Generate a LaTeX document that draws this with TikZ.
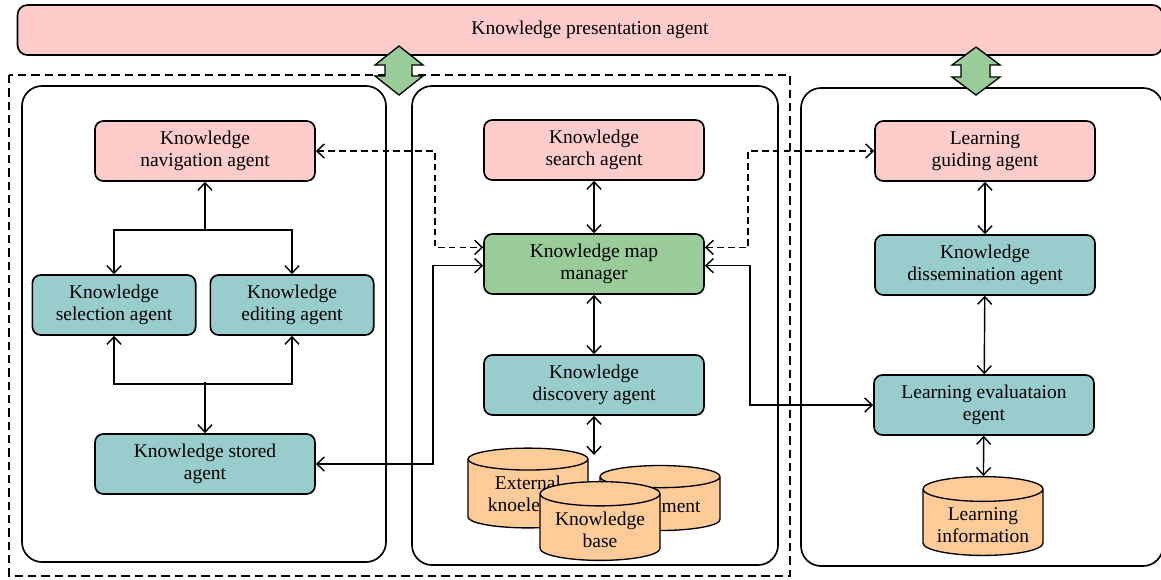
\documentclass[tikz,border=0pt]{standalone}
\usepackage{fontspec}
\setmainfont{Liberation Serif}
\usepackage{tikz}
\usetikzlibrary{arrows.meta,shapes.geometric}

\definecolor{agentpink}{HTML}{FFCCCC}
\definecolor{agentteal}{HTML}{99CCCC}
\definecolor{agentgreen}{HTML}{99CC99}
\definecolor{baseorange}{HTML}{FFCC99}

\begin{document}
\begin{tikzpicture}[x=0.6pt, y=-0.6pt,
    font=\fontsize{11.7}{13.2}\selectfont,
    >={Straight Barb[length=4.5pt, width=8.5pt]},
    agent/.style={draw, line width=1pt, rounded corners=5pt, align=center, minimum width=132pt, minimum height=36pt},
    small agent/.style={agent, minimum width=98pt},
    panel/.style={draw, line width=1pt, rounded corners=12pt},
    link/.style={line width=0.85pt},
    dashlink/.style={link, dash pattern=on 4pt off 2.5pt},
    base/.style={cylinder, shape border rotate=90, aspect=0.24, draw, line width=0.8pt, fill=baseorange, align=center, minimum width=72pt, minimum height=39pt, anchor=shape center},
    updown/.style={fill=agentgreen, draw, line width=0.8pt}]
    \useasboundingbox (0,0) rectangle (1161,579);
    \clip (0,0) rectangle (1161,579);

    \node[agent, fill=agentpink, rounded corners=6pt, minimum width=687pt, minimum height=30pt] (present) at (590,30) {Knowledge presentation agent};

    \draw[line width=1pt, dash pattern=on 5pt off 3pt] (9,75) rectangle (790,576);
    \draw[panel] (22,86) rectangle (386,562);
    \draw[panel] (412,86) rectangle (778,565);
    \draw[panel] (801,88) rectangle (1163,566);

    \filldraw[updown] (399,46) -- (423,65) -- (412,65) -- (412,76) -- (423,76) -- (399,95) -- (375,76) -- (385,76) -- (385,65) -- (375,65) -- cycle;
    \filldraw[updown] (976,47) -- (1000,65) -- (990,65) -- (990,77) -- (1000,77) -- (976,95) -- (952,77) -- (961,77) -- (961,65) -- (952,65) -- cycle;

    \node[agent, fill=agentpink] (nav) at (205,151) {Knowledge\\navigation agent};
    \node[small agent, fill=agentteal] (sel) at (114,305) {Knowledge\\selection agent};
    \node[small agent, fill=agentteal] (edit) at (292,305) {Knowledge\\editing agent};
    \node[agent, fill=agentteal] (store) at (205,464) {Knowledge stored\\agent};

    \node[agent, fill=agentpink] (search) at (594,150) {Knowledge\\search agent};
    \node[agent, fill=agentgreen] (kmm) at (594,264) {Knowledge map\\manager};
    \node[agent, fill=agentteal] (disc) at (594,385) {Knowledge\\discovery agent};

    \node[agent, fill=agentpink] (guide) at (985,151) {Learning\\guiding agent};
    \node[agent, fill=agentteal] (dissem) at (985,265) {Knowledge\\dissemination agent};
    \node[agent, fill=agentteal] (eval) at (984,405) {Learning evaluataion\\egent};

    \node[base, minimum height=35pt] (extdb) at (528,488) {External\\knoeledge};
    \node[base] (docdb) at (660,498) {Document};
    \node[base] (kbdb) at (600,521) {Knowledge\\base};
    \node[base] (lidb) at (983,516) {Learning\\information};

    \draw[link, <->] (nav.south) -- ++(0,48) -| (sel.north);
    \draw[link, ->] (nav.south) ++(0,48) -| (edit.north);
    \draw[link, <->] (sel.south) -- ++(0,48) -| (edit.south);
    \draw[link, ->] (store.north) ++(0,-51) -- (store.north);

    \draw[dashlink, <->] (nav.east) -| ([xshift=-29pt]kmm.north west) |- ([yshift=10pt]kmm.west);
    \draw[link, <->] (store.east) -| ([xshift=-30pt]kmm.south west) |- ([yshift=-1pt]kmm.west);
    \draw[dashlink, <->] ([yshift=10pt]kmm.east) -| ([xshift=26pt]kmm.north east) |- (guide.west);
    \draw[link, <->] ([yshift=-1pt]kmm.east) -| ([xshift=27pt]kmm.south east) |- (eval.west);

    \draw[link, <->] (search) -- (kmm);
    \draw[link, <->] (kmm) -- (disc);
    \draw[link, <->] (disc.south) -- ++(0,39);

    \draw[link, <->] (guide) -- (dissem);
    \draw[link, <->] (dissem) -- (eval);
    \draw[link, <->] (eval) -- (lidb);
\end{tikzpicture}
\end{document}
